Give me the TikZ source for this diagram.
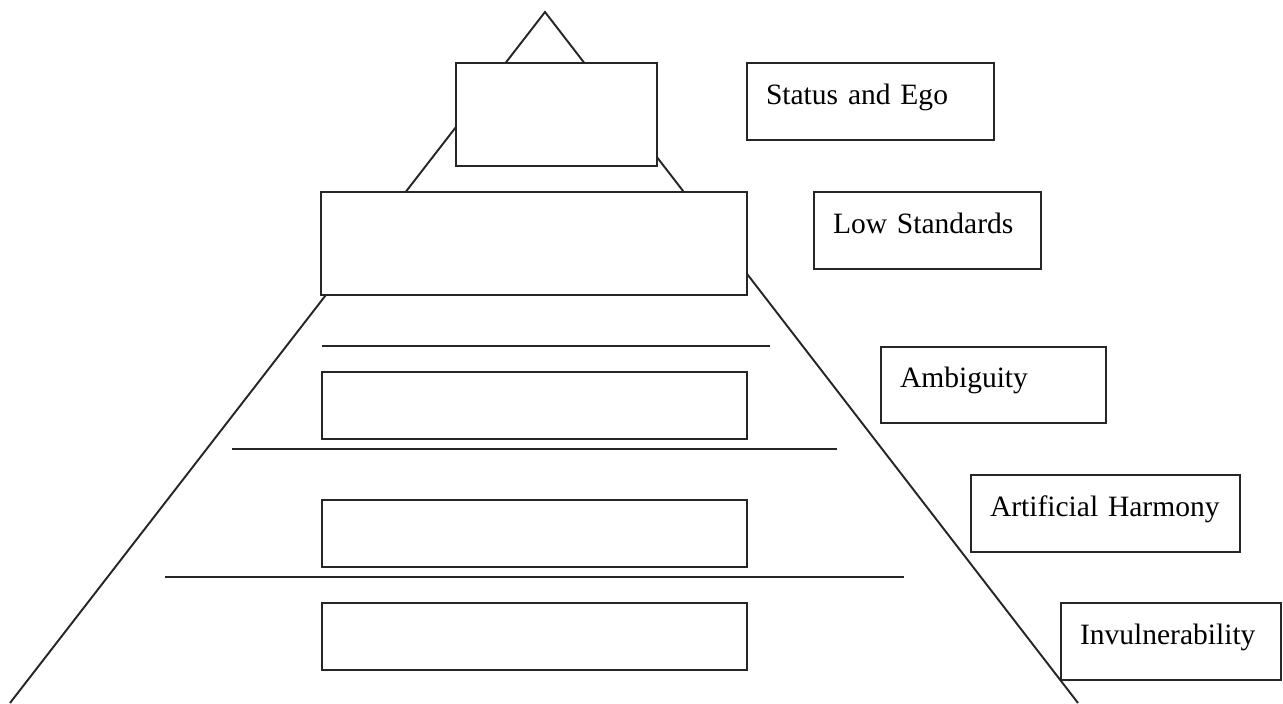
\documentclass[tikz,border=0pt]{standalone}
\usepackage{fontspec}
\setmainfont{Liberation Serif}

\tikzset{
	pline/.style = {line width=1.1pt, draw=black!85},
	tier/.style = {pline, fill=white},
	lbl/.style = {pline, fill=white, anchor=north west, outer sep=0pt,
		inner xsep=0.38cm, inner ysep=0pt, align=left,
		text height=0.7em, text depth=0.36em,
		font=\fontsize{16.8}{20}\selectfont},
}

\begin{document}
\begin{tikzpicture}[x=0.02cm, y=-0.02cm]
		\useasboundingbox (0,0) rectangle (1283,703);
		% 三角形の外形
		\coordinate (apex) at (545,12);
		\coordinate (baseL) at (10,703);
		\coordinate (baseR) at (1078,703);
		\draw [pline] (baseL) -- (apex) -- (baseR);
		% 段の箱
		\draw [tier] (456,63) rectangle (657,166);
		\draw [tier] (321,192) rectangle (747,295);
		\draw [tier] (322,372) rectangle (747,439);
		\draw [tier] (322,500) rectangle (747,567);
		\draw [tier] (322,603) rectangle (747,670);
		% 区切り線
		\draw [pline] (322,346) -- (770,346);
		\draw [pline] (232,449) -- (837,449);
		\draw [pline] (165,577) -- (904,577);
		% ラベル
		\node [lbl, text width=4.18cm, minimum height=1.54cm] (ego) at (747,63) {\mbox{Status and Ego}};
		\node [lbl, text width=3.78cm, minimum height=1.54cm] (standards) at (814,192) {\mbox{Low Standards}};
		\node [lbl, text width=3.74cm, minimum height=1.52cm] (ambiguity) at (881,347) {\mbox{Ambiguity}};
		\node [lbl, text width=4.62cm, minimum height=1.54cm] (harmony) at (971,475) {\mbox{Artificial Harmony}};
		\node [lbl, text width=3.64cm, minimum height=1.54cm] (invuln) at (1061,603) {\mbox{Invulnerability}};
	\end{tikzpicture}
\end{document}
